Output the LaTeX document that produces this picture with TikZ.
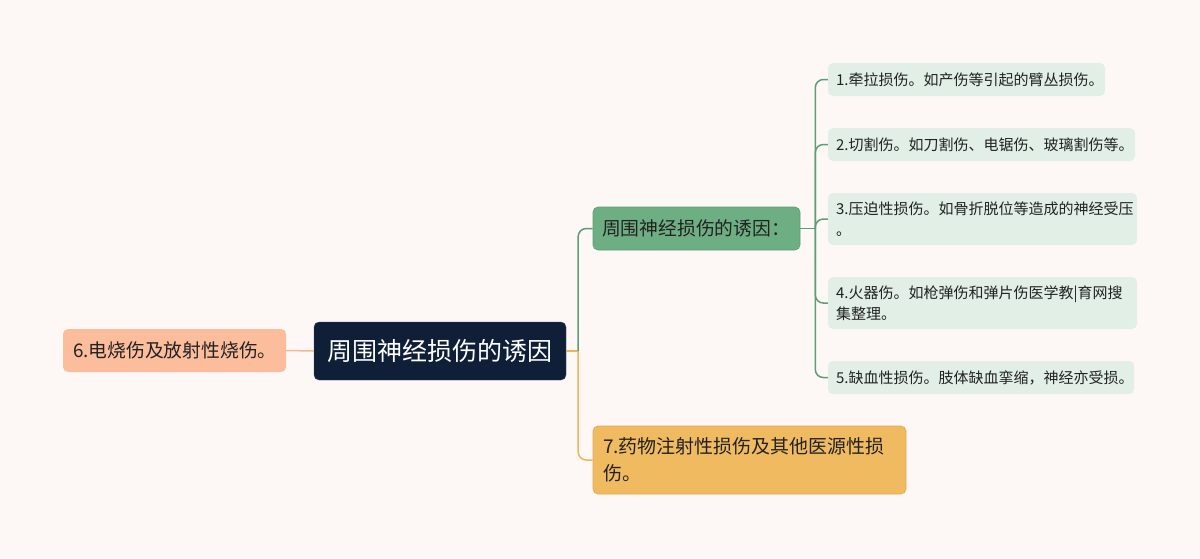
\documentclass[tikz,border=0pt]{standalone}
\usepackage{fontspec}
\setmainfont{Noto Sans CJK SC}
\usetikzlibrary{calc}
\definecolor{bgc}{HTML}{FDF8F6}
\definecolor{rootc}{HTML}{0F1F38}
\definecolor{peachc}{HTML}{FBBD9C}
\definecolor{peachl}{HTML}{F3B995}
\definecolor{greenc}{HTML}{6DAE82}
\definecolor{greenb}{HTML}{5E9E74}
\definecolor{greenl}{HTML}{5E9E76}
\definecolor{leafc}{HTML}{E1EFE6}
\definecolor{orangec}{HTML}{F0BA60}
\definecolor{orangeb}{HTML}{E2AA50}
\definecolor{orangel}{HTML}{EDB45A}
\definecolor{txt}{HTML}{222222}
\tikzset{
  box/.style={rounded corners=5pt, inner ysep=0pt, anchor=center, text=txt},
  rootbox/.style={box, fill=rootc, draw=rootc!80!white, text=white, font=\fontsize{25pt}{29pt}\selectfont, minimum width=252pt, minimum height=58pt, inner xsep=0pt},
  peachbox/.style={box, fill=peachc, minimum height=43pt, text width=203pt, inner xsep=10pt, align=left, font=\fontsize{18.8pt}{22pt}\selectfont},
  greenbox/.style={box, fill=greenc, draw=greenb, line width=0.6pt, minimum height=43pt, text width=189pt, inner xsep=9pt, align=left, font=\fontsize{18.8pt}{22pt}\selectfont},
  leafbox/.style={box, fill=leafc, inner xsep=8pt, align=left, font=\fontsize{15pt}{21pt}\selectfont},
  orangebox/.style={box, fill=orangec, draw=orangeb, line width=0.6pt, minimum height=68pt, text width=293pt, inner xsep=10pt, align=left, font=\fontsize{19pt}{27pt}\selectfont},
  gline/.style={draw=greenl, line width=1.5pt, rounded corners=8pt},
  oline/.style={draw=orangel, line width=1.5pt, rounded corners=8pt},
  pline/.style={draw=peachl, line width=1.5pt},
}
\begin{document}
\begin{tikzpicture}[x=1pt,y=-1pt]
\useasboundingbox (0,0) rectangle (1200,558);
\fill[bgc] (0,0) rectangle (1200,558);

\node[rootbox] (root) at (440,351) {周围神经损伤的诱因};
\node[peachbox] (n6) at (174.5,350.5) {6.电烧伤及放射性烧伤。};
\node[greenbox] (g) at (696.5,228.5) {周围神经损伤的诱因：};
\node[orangebox] (n7) at (749.5,460) {7.药物注射性损伤及其他医源性损\\伤。};

\node[leafbox, minimum height=33pt, text width=261pt] (l1) at (966.5,79.5) {1.牵拉损伤。如产伤等引起的臂丛损伤。};
\node[leafbox, minimum height=33pt, text width=291pt] (l2) at (981.5,144.5) {2.切割伤。如刀割伤、电锯伤、玻璃割伤等。};
\node[leafbox, minimum height=52pt, text width=293pt] (l3) at (982.5,219) {3.压迫性损伤。如骨折脱位等造成的神经受压\\。};
\node[leafbox, minimum height=52pt, text width=293pt] (l4) at (982.5,303) {4.火器伤。如枪弹伤和弹片伤医学教|育网搜\\集整理。};
\node[leafbox, minimum height=33pt, text width=290pt] (l5) at (981,377.5) {5.缺血性损伤。肢体缺血挛缩，神经亦受损。};

\coordinate (j) at ($(root.east)+(12,0)$);
\coordinate (k) at ($(g.east)+(15,0)$);

\draw[pline] (root.west) -- (n6.east);
\draw[oline] (root.east) -- (j);
\draw[gline] (j) |- (g.west);
\draw[oline] (j) |- (n7.west);

\draw[gline] (g.east) -- (k);
\foreach \l in {l1,l2,l3,l4,l5} {
  \draw[gline] (k) |- (\l.west);
}
\end{tikzpicture}
\end{document}
